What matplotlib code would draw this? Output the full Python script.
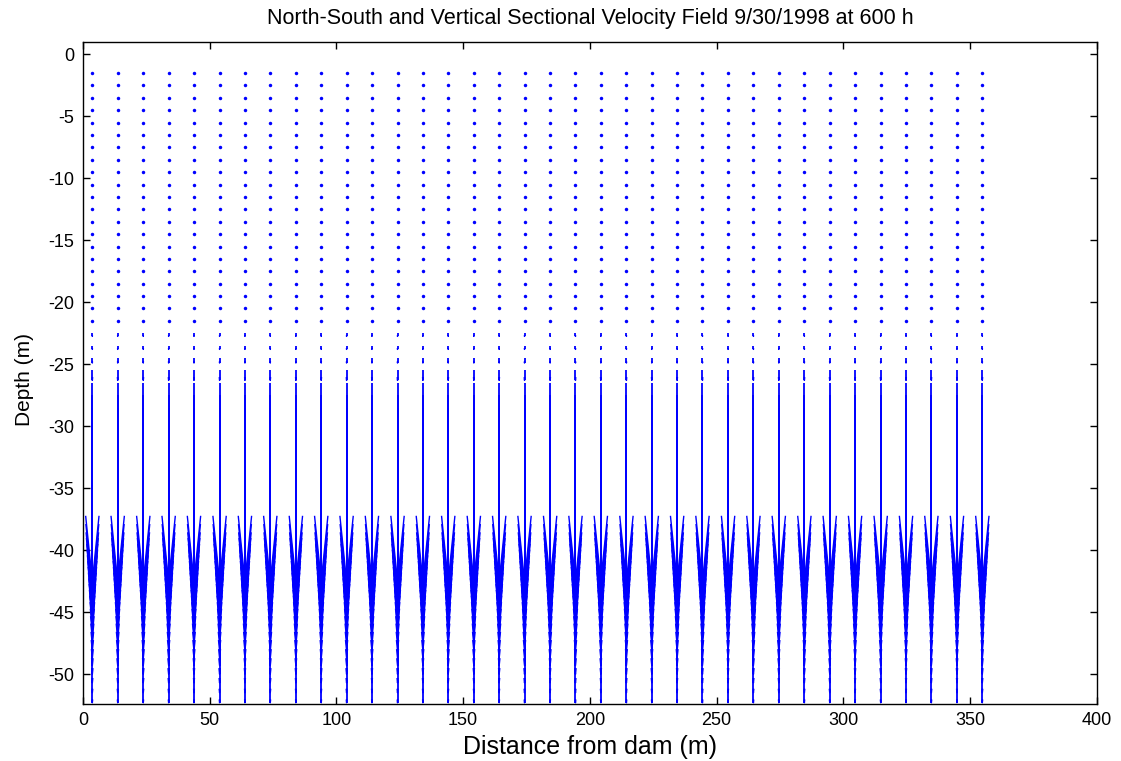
import numpy as np
import matplotlib
matplotlib.use('Agg')
import matplotlib.pyplot as plt
from matplotlib.collections import LineCollection

plt.rcParams['font.family'] = ['Liberation Sans', 'DejaVu Sans']
plt.rcParams['axes.unicode_minus'] = False

# station positions along the section (m from dam)
dist = [3.7, 13.7, 23.8, 33.8, 43.8, 53.9, 63.9, 73.9, 84.0, 94.0, 104.0, 114.0,
        124.1, 134.1, 144.1, 154.2, 164.2, 174.2, 184.3, 194.3, 204.3, 214.4,
        224.4, 234.4, 244.4, 254.5, 264.5, 274.5, 284.6, 294.6, 304.6, 314.7,
        324.7, 334.7, 344.8, 354.8]
# depth of each cell (m)
depth = [-1.5, -2.5, -3.5, -4.5, -5.5, -6.5, -7.5, -8.5, -9.5, -10.5, -11.5,
         -12.5, -13.5, -14.5, -15.5, -16.5, -17.5, -18.5, -19.5, -20.5, -21.5,
         -22.5, -23.5, -24.5, -25.5, -26.5, -27.5, -28.5, -29.5, -30.5, -31.5,
         -32.5, -33.5, -34.5, -35.5, -36.5, -37.5, -38.5, -39.5, -40.5, -41.5,
         -42.5, -43.5, -44.5, -45.5, -46.5, -47.5, -48.5, -49.5, -50.5, -51.5]
# scaled vertical velocity per depth cell (same profile at every station)
w = [0, 0, 0, 0, 0, 0, 0, 0, 0, 0, 0, 0, 0, 0, 0, 0, 0, 0, 0, 0, 0,
     -0.25, -0.3, -0.4, -0.8,
     -16.0, -15.5, -15.0, -14.2, -13.4, -12.6, -11.8, -11.0, -10.2, -9.4,
     -8.6, -7.8, -7.0, -6.2, -5.5, -4.8, -4.2, -3.6, -3.1, -2.6, -2.2,
     -1.8, -1.5, -1.2, -1.0, -0.8]
# scaled north-south velocity per depth cell
u = [0.0] * len(depth)

X, Y = np.meshgrid(dist, depth)
W = np.tile(np.array(w)[:, None], (1, len(dist)))
U = np.tile(np.array(u)[:, None], (1, len(dist)))

fig = plt.figure(figsize=(11.21, 7.61), dpi=100)
ax = fig.add_axes([0.074, 0.0749, 0.9045, 0.870])

# matlab style quiver: shaft + open arrow head
alpha, beta = 0.33, 0.5
x, y, uu, vv = X.ravel(), Y.ravel(), U.ravel(), W.ravel()
mag = np.hypot(uu, vv)
m = mag > 0.1
shafts = [[(a, b), (a + c, b + d)] for a, b, c, d in zip(x[m], y[m], uu[m], vv[m])]
heads = []
for a, b, c, d in zip(x[m], y[m], uu[m], vv[m]):
    tx, ty = a + c, b + d
    heads.append([(tx - alpha * (c + beta * d), ty - alpha * (d - beta * c)),
                  (tx, ty),
                  (tx - alpha * (c - beta * d), ty - alpha * (d + beta * c))])
ax.add_collection(LineCollection(shafts, colors='blue', linewidths=1.3))
ax.add_collection(LineCollection(heads, colors='blue', linewidths=1.0))
ax.plot(x[~m], y[~m], 'o', color='blue', ms=2.5, mew=0)

ax.set_xlim(0, 400)
ax.set_ylim(-52.4, 1.0)
ax.set_xticks(range(0, 401, 50))
ax.set_yticks(range(-50, 1, 5))
ax.tick_params(direction='in', top=True, right=True, length=5, labelsize=13,
               width=1, pad=6)
for s in ax.spines.values():
    s.set_linewidth(1.0)

ax.set_title('North-South and Vertical Sectional Velocity Field 9/30/1998 at 600 h',
             fontsize=15.5, pad=13)
ax.set_xlabel('Distance from dam (m)', fontsize=18, labelpad=4)
ax.set_ylabel('Depth (m)', fontsize=15)
ax.yaxis.set_label_coords(-0.048, 0.49)

fig.savefig('out.png', dpi=100)
